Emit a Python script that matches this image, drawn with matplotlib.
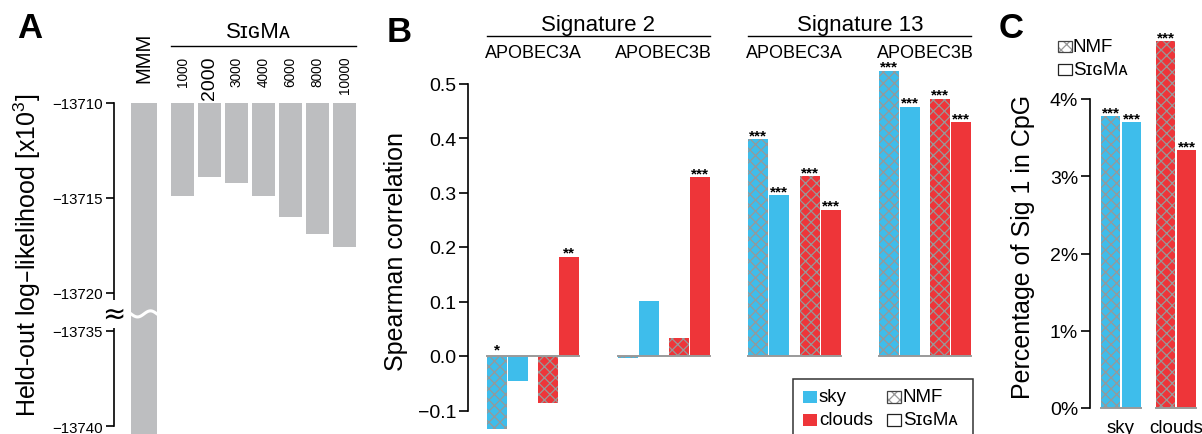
import numpy as np
import matplotlib
matplotlib.use('Agg')
import matplotlib.pyplot as plt
from matplotlib.patches import Rectangle
from matplotlib.transforms import blended_transform_factory as blend

plt.rcParams['font.family'] = ['Liberation Sans', 'DejaVu Sans']
plt.rcParams['mathtext.default'] = 'regular'
plt.rcParams['hatch.linewidth'] = 0.9

# ---------------- data ----------------
# Panel A
a_labels = ['MMM', '1000', '2000', '3000', '4000', '6000', '8000', '10000']
a_values = [-13741.0, -13714.9, -13713.9, -13714.2, -13714.9, -13716.0, -13716.9, -13717.6]
a_ticks = [-13710, -13715, -13720, -13735, -13740]
a_top = -13710

# Panel B
b_signatures = ['Signature 2', 'Signature 13']
b_genes = ['APOBEC3A', 'APOBEC3B', 'APOBEC3A', 'APOBEC3B']
b_sky_nmf = [-0.134, -0.003, 0.398, 0.523]
b_sky_sigma = [-0.046, 0.101, 0.295, 0.457]
b_clouds_nmf = [-0.087, 0.033, 0.330, 0.472]
b_clouds_sigma = [0.182, 0.328, 0.268, 0.429]
b_sky_nmf_sig = ['*', '', '***', '***']
b_sky_sigma_sig = ['', '', '***', '***']
b_clouds_nmf_sig = ['', '', '***', '***']
b_clouds_sigma_sig = ['**', '***', '***', '***']
b_ticks = [-0.1, 0.0, 0.1, 0.2, 0.3, 0.4, 0.5]

# Panel C
c_categories = ['sky', 'clouds']
c_nmf = [3.78, 4.75]
c_sigma = [3.70, 3.34]
c_nmf_sig = ['***', '***']
c_sigma_sig = ['***', '***']
c_ticks = [0, 1, 2, 3, 4]

# ---------------- style ----------------
W, H = 1202, 435
SKY = '#3EBDEB'
RED = '#EE3539'
HATCH_EC = '#989898'
GRAY_BAR = '#BDBEC0'
BASE = '#9a9a9a'
SIGMA_TXT = 'S\u026a\u0262M\u1d00'
STAR_SIZE = 11

fig = plt.figure(figsize=(W / 100, H / 100), dpi=100)


def px_axes(l, t, r, b):
    return fig.add_axes([l / W, 1 - b / H, (r - l) / W, (b - t) / H])


ov = fig.add_axes([0, 0, 1, 1], zorder=10)
ov.set_xlim(0, W)
ov.set_ylim(H, 0)
ov.axis('off')
ov.patch.set_alpha(0)


def style_axis(ax, size, length):
    for s in ['top', 'right', 'bottom']:
        ax.spines[s].set_visible(False)
    ax.spines['left'].set_linewidth(1.2)
    ax.tick_params(axis='y', labelsize=size, length=length, width=1.2, pad=2)
    ax.set_xticks([])
    ax.patch.set_alpha(0)


# ---------------- Panel A ----------------
shift = 13  # broken axis: values at or below -13735 are lifted by 13


def brk(v):
    return v + shift if v <= -13735 else v


axA = px_axes(114, 104, 362, 435)
a_x = [0.0] + [1.426 + i for i in range(len(a_labels) - 1)]
a_w = [0.96] + [0.87] * (len(a_labels) - 1)
axA.bar(a_x, [brk(v) - a_top for v in a_values], bottom=a_top, width=a_w,
        color=GRAY_BAR, edgecolor='none')
axA.set_xlim(-30 / 27, 218 / 27)
axA.set_ylim(-13710 - 331 / 19, -13710)
style_axis(axA, 10.8, 6)
axA.spines['left'].set_bounds(brk(-13740), -13710)
axA.set_yticks([brk(t) for t in a_ticks])
axA.set_yticklabels(['\u2212%d' % abs(t) for t in a_ticks])

ybreak = -13721.1
wx = np.linspace(-0.5, 0.5, 40) * a_w[0]
axA.plot(a_x[0] + wx, ybreak + 0.16 * np.sin(wx / a_w[0] * 2 * np.pi), color='white', lw=2.2,
         clip_on=False)
trA = blend(axA.transData, ov.transData)
yb_px = 104 + (-13710 - ybreak) * 19
ov.text(114, yb_px, '\u2248', ha='center', va='center', fontsize=20, family='DejaVu Sans',
        bbox=dict(fc='white', ec='none', pad=0.05))

for x, lab in zip(a_x, a_labels):
    size = 14.5 if lab == 'MMM' else (14 if lab == '2000' else 9.8)
    ytop = 33 if lab == 'MMM' else 57
    ov.text(x, ytop, lab, transform=trA, rotation=90, ha='center', va='top', fontsize=size)

xl = a_x[1] - a_w[1] / 2
xr = a_x[-1] + a_w[-1] / 2
ov.plot([xl, xr], [47, 47], transform=trA, color='k', lw=1)
ov.text((xl + xr) / 2 - 0.2, 38, SIGMA_TXT, transform=trA, ha='center', va='baseline', fontsize=16)
ov.text(27, 255, 'Held-out log\u2013likelihood [x10$^{3}$]', rotation=90, ha='center', va='center',
        fontsize=18)
ov.text(17, 38, 'A', fontsize=25, fontweight='bold', va='baseline', ha='left')

# ---------------- Panel B ----------------
axB = px_axes(468, 70, 990, 435)
unitB = 130.75
gx = np.arange(len(b_genes))
offs = [-0.277, -0.115, 0.115, 0.277]
wB = 20 / unitB
series = [(b_sky_nmf, SKY, True, b_sky_nmf_sig),
          (b_sky_sigma, SKY, False, b_sky_sigma_sig),
          (b_clouds_nmf, RED, True, b_clouds_nmf_sig),
          (b_clouds_sigma, RED, False, b_clouds_sigma_sig)]
for (vals, col, hatched, sig), off in zip(series, offs):
    if hatched:
        axB.bar(gx + off, vals, width=wB, color=col, edgecolor=HATCH_EC, linewidth=0, hatch='xxx')
    else:
        axB.bar(gx + off, vals, width=wB, color=col, edgecolor='none')
    for x, v, s in zip(gx + off, vals, sig):
        if s:
            axB.annotate(s, xy=(x, max(v, 0)), xytext=(0, 1.5 if v < 0 else 0),
                         textcoords='offset points', ha='center', va='baseline',
                         fontsize=STAR_SIZE, fontweight='bold')
for g in gx:
    axB.plot([g + offs[0] - wB / 2, g + offs[-1] + wB / 2], [0, 0], color=BASE, lw=1.4, zorder=3)
axB.set_xlim(-65 / unitB, 522 / unitB - 65 / unitB)
axB.set_ylim(-78 / 545, 287 / 545)
style_axis(axB, 14, 6.5)
axB.spines['left'].set_bounds(-0.1, 0.5)
axB.set_yticks(b_ticks)
axB.set_yticklabels(['\u22120.1' if t < 0 else '%.1f' % t for t in b_ticks])
axB.set_ylabel('Spearman correlation', fontsize=18, labelpad=4)
axB.yaxis.set_label_coords(-(468 - 408) / 522, (435 - 252) / 365)

trB = blend(axB.transData, ov.transData)
for g, gene in zip(gx, b_genes):
    ov.text(g, 57.5, gene, transform=trB, ha='center', va='baseline', fontsize=13)
for k, sig in enumerate(b_signatures):
    x0 = gx[2 * k] + offs[0] - wB / 2
    x1 = gx[2 * k + 1] + offs[-1] + wB / 2
    ov.plot([x0, x1], [37, 37], transform=trB, color='k', lw=1)
    ov.text((x0 + x1) / 2, 31, sig, transform=trB, ha='center', va='baseline', fontsize=16)
ov.text(387, 42, 'B', fontsize=25, fontweight='bold', va='baseline', ha='left')

# legend B
ov.add_patch(Rectangle((793, 380), 180, 70, fc='white', ec='#333333', lw=1.1))
ov.add_patch(Rectangle((803, 392), 14, 12, fc=SKY, ec='none'))
ov.add_patch(Rectangle((803, 415), 14, 12, fc=RED, ec='none'))
ov.text(819, 398, 'sky', va='center', ha='left', fontsize=13.5)
ov.text(819, 421, 'clouds', va='center', ha='left', fontsize=13.5)
ov.add_patch(Rectangle((887, 392), 14, 12, fc='white', ec=HATCH_EC, lw=0, hatch='xxx'))
ov.add_patch(Rectangle((887, 392), 14, 12, fc='none', ec='#444444', lw=0.9))
ov.add_patch(Rectangle((887, 415), 14, 12, fc='white', ec='#222222', lw=0.9))
ov.text(903, 398, 'NMF', va='center', ha='left', fontsize=13.5)
ov.text(903, 421, SIGMA_TXT, va='center', ha='left', fontsize=13.5)

# ---------------- Panel C ----------------
axC = px_axes(1090, 30, 1202, 435)
unitC = 55
cx = np.arange(len(c_categories))
offC = 10.5 / unitC
wC = 19 / unitC
axC.bar(cx - offC, c_nmf, width=wC, color=[SKY, RED], edgecolor=HATCH_EC, linewidth=0, hatch='xxx')
axC.bar(cx + offC, c_sigma, width=wC, color=[SKY, RED], edgecolor='none')
for x, v, s in zip(cx - offC, c_nmf, c_nmf_sig):
    axC.annotate(s, xy=(x, v), xytext=(0, 0), textcoords='offset points', ha='center',
                 va='baseline', fontsize=STAR_SIZE, fontweight='bold')
for x, v, s in zip(cx + offC, c_sigma, c_sigma_sig):
    axC.annotate(s, xy=(x, v), xytext=(0, 0), textcoords='offset points', ha='center',
                 va='baseline', fontsize=STAR_SIZE, fontweight='bold')
for x in cx:
    axC.plot([x - offC - wC / 2, x + offC + wC / 2], [0, 0], color=BASE, lw=1.4, zorder=3)
axC.set_xlim(-31 / unitC, 81 / unitC)
axC.set_ylim(-26 / 77.25, 379 / 77.25)
style_axis(axC, 14, 6.5)
axC.spines['left'].set_bounds(0, 4)
axC.set_yticks(c_ticks)
axC.set_yticklabels(['%d%%' % t for t in c_ticks])
trC = blend(axC.transData, ov.transData)
for x, lab in zip(cx, c_categories):
    ov.text(x, 433, lab, transform=trC, ha='center', va='baseline', fontsize=13.5)
ov.text(1023, 247, 'Percentage of Sig 1 in CpG', rotation=90, ha='center', va='center', fontsize=18)
ov.text(999, 38, 'C', fontsize=25, fontweight='bold', va='baseline', ha='left')

ov.add_patch(Rectangle((1058, 42), 14, 11, fc='white', ec=HATCH_EC, lw=0, hatch='xxx'))
ov.add_patch(Rectangle((1058, 42), 14, 11, fc='none', ec='#444444', lw=0.9))
ov.add_patch(Rectangle((1058, 65), 14, 11, fc='white', ec='#222222', lw=0.9))
ov.text(1073, 47.5, 'NMF', va='center', ha='left', fontsize=13.5)
ov.text(1073, 70.5, SIGMA_TXT, va='center', ha='left', fontsize=13.5)

fig.savefig('out.png', dpi=100)
